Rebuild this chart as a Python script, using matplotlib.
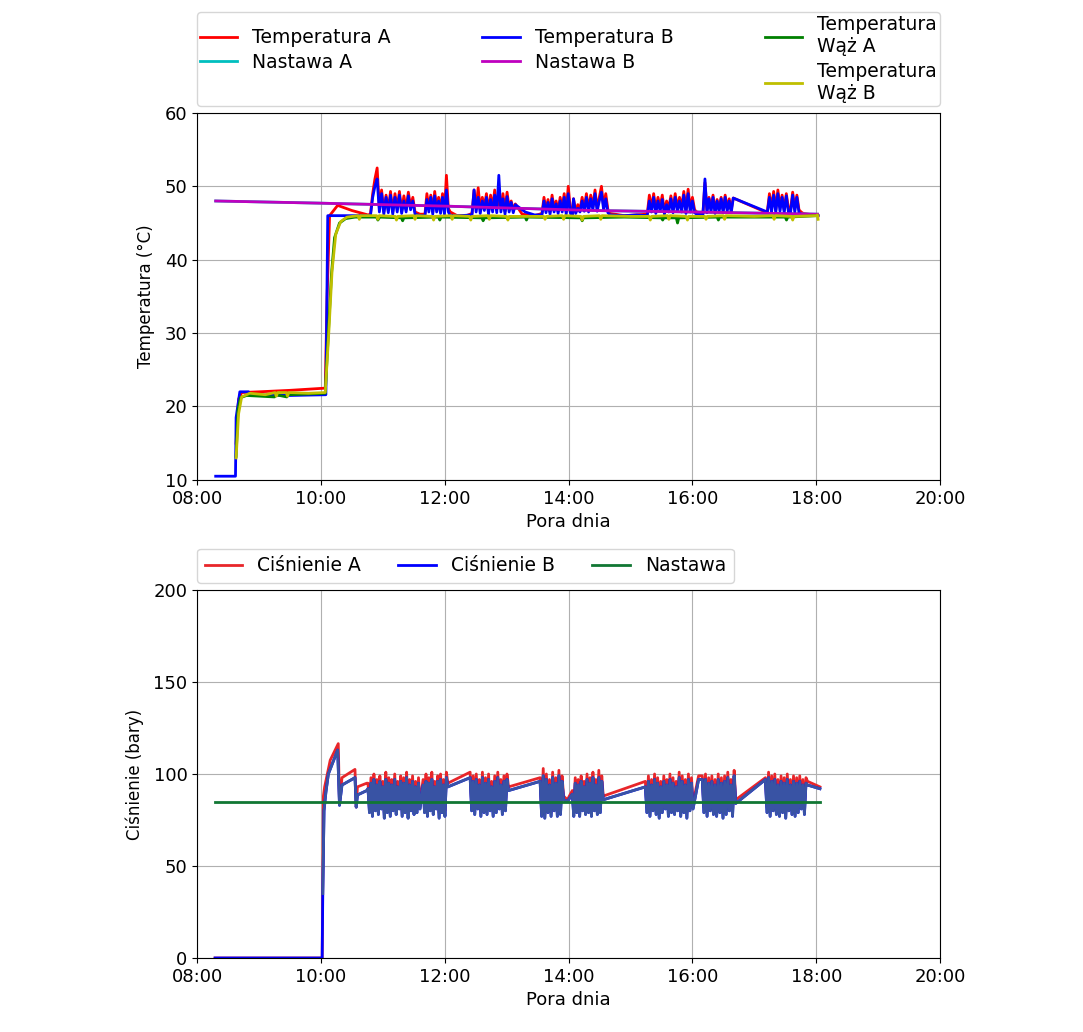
import numpy as np
import matplotlib
matplotlib.use('Agg')
import matplotlib.pyplot as plt

# godziny jako liczby (np. 10.5 = 10:30)
hour_ticks = [8, 10, 12, 14, 16, 18, 20]
hour_labels = ['08:00', '10:00', '12:00', '14:00', '16:00', '18:00', '20:00']

# ---------------- temperatura ----------------
# okresy pracy (start, koniec) w godzinach
temp_spans = [(10.80, 11.52), (11.68, 12.09), (12.44, 13.14), (13.57, 14.06),
              (14.08, 14.67), (15.27, 16.07), (16.17, 16.66), (17.21, 17.79)]

tempA_bursts = [
    [46.2, 49.0, 51.0, 52.5, 47.0, 49.5, 46.5, 48.8, 46.8, 49.3, 46.5, 49.0, 47.0, 49.3, 46.6, 48.7, 46.9, 49.2, 47.2, 48.5, 46.5],
    [46.2, 49.0, 47.0, 48.8, 46.5, 49.3, 47.0, 48.5, 46.8, 49.0, 46.5, 51.5, 47.0, 46.5],
    [46.3, 49.5, 47.0, 49.8, 46.8, 48.5, 47.2, 49.0, 46.5, 48.8, 47.0, 49.5, 46.8, 48.5, 47.0, 49.0, 46.6, 49.2, 47.0, 48.0, 46.8, 47.6],
    [46.3, 48.5, 46.8, 48.2, 46.5, 48.8, 47.0, 48.0, 46.6, 48.5, 47.0, 49.0, 46.5, 50.0, 47.0, 46.2],
    [48.3, 46.5, 47.5, 46.8, 48.5, 47.0, 49.0, 46.8, 48.8, 47.2, 49.5, 47.0, 48.5, 50.0, 47.2, 49.0, 46.8, 46.3],
    [46.2, 48.8, 47.0, 49.0, 46.8, 48.5, 47.2, 48.8, 46.5, 48.0, 47.0, 48.7, 46.8, 49.0, 47.0, 48.5, 47.2, 49.3, 46.8, 49.6, 47.0, 48.5, 46.8, 46.5],
    [46.3, 50.5, 46.8, 48.5, 47.0, 48.8, 46.6, 48.2, 47.0, 48.5, 46.8, 48.8, 47.0, 48.3, 46.8, 48.4],
    [46.5, 49.0, 47.0, 49.3, 46.8, 49.5, 47.2, 48.8, 46.8, 49.0, 47.0, 46.8, 49.2, 47.0, 48.8, 46.8, 46.5, 46.3],
]
tempB_bursts = [
    [46.0, 48.5, 50.0, 51.0, 46.5, 49.0, 46.2, 48.5, 46.4, 48.8, 46.2, 48.5, 46.5, 48.8, 46.3, 48.0, 46.5, 48.7, 46.8, 48.0, 46.2],
    [46.0, 48.2, 46.5, 48.5, 46.2, 48.7, 46.5, 48.0, 46.3, 48.5, 46.2, 49.5, 46.5, 46.0],
    [46.1, 49.5, 46.5, 48.5, 46.3, 48.0, 46.7, 48.5, 46.2, 48.2, 46.5, 48.8, 46.4, 51.5, 46.5, 48.3, 46.2, 48.6, 46.5, 47.8, 46.4, 47.5],
    [46.1, 48.0, 46.4, 47.8, 46.2, 48.3, 46.5, 47.6, 46.3, 48.0, 46.5, 48.5, 46.2, 49.0, 46.4, 46.0],
    [48.3, 46.3, 47.0, 46.5, 48.0, 46.6, 48.5, 46.5, 48.3, 46.8, 49.0, 46.6, 48.0, 49.2, 46.8, 48.3, 46.4, 46.1],
    [46.0, 48.0, 46.5, 48.5, 46.3, 48.0, 46.6, 48.2, 46.2, 47.5, 46.5, 48.3, 46.4, 48.5, 46.6, 48.0, 46.5, 48.8, 46.3, 49.0, 46.5, 48.0, 46.4, 46.2],
    [46.1, 51.0, 46.4, 48.3, 46.5, 48.5, 46.3, 48.0, 46.5, 48.3, 46.4, 48.5, 46.6, 48.0, 46.4, 48.4],
    [46.4, 48.5, 46.5, 48.8, 46.4, 49.0, 46.6, 48.5, 46.4, 48.7, 46.5, 46.4, 48.8, 46.5, 48.5, 46.4, 46.2, 46.1],
]

tempA_pts = [(8.63, 15.0), (8.67, 21.0), (8.72, 21.9), (9.0, 22.0), (9.5, 22.2), (10.07, 22.5),
             (10.10, 35.0), (10.14, 46.0), (10.27, 47.4), (10.5, 46.7), (10.76, 46.1),
             (11.60, 46.2), (12.2, 46.0), (12.35, 46.0), (13.25, 46.2), (13.45, 46.0),
             (14.9, 46.0), (15.1, 46.1), (17.15, 46.6), (18.03, 46.0)]
tempB_pts = [(8.30, 10.5), (8.62, 10.5), (8.63, 18.5), (8.69, 22.0), (8.83, 22.0), (8.86, 21.6),
             (9.5, 21.5), (10.08, 21.6), (10.11, 46.0), (10.44, 46.0), (10.78, 46.0),
             (11.60, 46.0), (12.25, 46.0), (13.30, 46.5), (13.45, 46.1),
             (14.9, 46.0), (15.1, 46.1), (17.18, 46.6), (18.03, 46.0)]

nastawa_pts = [(8.30, 48.0), (10.0, 47.7), (12.0, 47.3), (14.4, 46.7), (16.0, 46.5), (18.02, 46.2)]

wazA_pts = [(8.63, 13.2), (8.66, 19.5), (8.70, 21.2), (8.80, 21.5), (9.25, 21.3), (9.27, 21.6),
            (9.45, 21.3), (9.47, 21.6), (9.8, 21.7), (10.07, 21.8), (10.12, 30.0), (10.17, 38.0),
            (10.22, 43.0), (10.30, 45.0), (10.40, 45.6), (10.55, 45.8), (10.9, 45.8), (10.92, 45.4),
            (10.95, 45.8), (11.3, 45.7), (11.32, 45.3), (11.34, 45.7), (11.9, 45.8), (11.92, 45.4),
            (11.94, 45.8), (12.6, 45.7), (12.62, 45.3), (12.64, 45.7), (13.3, 45.8), (13.32, 45.4),
            (13.34, 45.8), (14.2, 45.7), (14.22, 45.3), (14.24, 45.7), (14.9, 45.8), (15.5, 45.7),
            (15.52, 45.4), (15.54, 45.7), (15.74, 45.7), (15.76, 45.0), (15.78, 45.7), (16.4, 45.8),
            (16.42, 45.4), (16.44, 45.8), (17.0, 45.8), (17.5, 45.8), (17.52, 45.4), (17.54, 45.8),
            (18.02, 46.0)]
wazB_pts = [(8.63, 13.0), (8.67, 19.0), (8.72, 21.3), (8.85, 21.8), (9.1, 21.6), (9.26, 21.9),
            (9.28, 21.4), (9.30, 21.9), (9.44, 21.9), (9.46, 21.4), (9.48, 21.9), (9.8, 21.8),
            (10.07, 21.9), (10.13, 30.5), (10.18, 38.5), (10.24, 43.5), (10.32, 45.2), (10.42, 45.8),
            (10.6, 46.0), (10.62, 45.5), (10.64, 46.0), (10.9, 46.0), (10.92, 45.5), (10.94, 46.0),
            (11.2, 45.9), (11.22, 45.4), (11.24, 45.9), (11.5, 46.0), (11.52, 45.5), (11.54, 46.0),
            (11.8, 45.9), (11.82, 45.4), (11.84, 45.9), (12.1, 46.0), (12.12, 45.5), (12.14, 46.0),
            (12.4, 45.9), (12.42, 45.4), (12.44, 45.9), (12.7, 46.0), (12.72, 45.5), (12.74, 46.0),
            (13.0, 45.9), (13.02, 45.4), (13.04, 45.9), (13.6, 45.9), (13.62, 45.5), (13.64, 45.9),
            (13.9, 46.0), (13.92, 45.5), (13.94, 46.0), (14.2, 45.9), (14.22, 45.4), (14.24, 45.9),
            (14.5, 46.0), (14.52, 45.5), (14.54, 46.0), (15.0, 45.9), (15.3, 45.9), (15.32, 45.4),
            (15.34, 45.9), (15.6, 46.0), (15.62, 45.5), (15.64, 46.0), (15.9, 45.9), (15.92, 45.4),
            (15.94, 45.9), (16.2, 45.9), (16.22, 45.5), (16.24, 45.9), (16.5, 46.0), (16.52, 45.5),
            (16.54, 46.0), (17.0, 45.9), (17.3, 46.0), (17.32, 45.5), (17.34, 46.0), (17.6, 45.9),
            (17.62, 45.4), (17.64, 45.9), (18.0, 46.0), (18.02, 46.1), (18.03, 45.5)]

# ---------------- cisnienie ----------------
pres_spans = [(10.76, 11.60), (11.65, 12.05), (12.41, 13.03), (13.54, 13.92), (14.06, 14.56),
              (15.24, 16.01), (16.16, 16.70), (17.18, 17.86)]

presA_bursts = [
    [95, 82, 98, 80, 100, 83, 97, 81, 99, 84, 96, 79, 101, 82, 98, 80, 97, 83, 100, 81, 96, 84, 99, 80, 98, 82, 101, 79, 97, 83, 99, 81, 96, 82, 98, 84],
    [97, 82, 100, 80, 98, 83, 101, 81, 96, 84, 99, 79, 100, 82, 97, 80, 101, 95],
    [101, 83, 99, 81, 100, 84, 97, 80, 101, 82, 98, 81, 100, 83, 96, 80, 99, 82, 101, 84, 97, 81, 99, 83, 100, 93],
    [98, 80, 103, 78, 100, 82, 97, 79, 101, 83, 98, 80, 102, 81, 99, 88],
    [91, 80, 98, 82, 97, 80, 99, 83, 96, 81, 100, 82, 98, 80, 101, 83, 97, 81, 102, 82, 99, 88],
    [96, 82, 99, 80, 97, 83, 100, 81, 98, 79, 96, 82, 99, 84, 97, 80, 100, 82, 98, 81, 96, 83, 101, 80, 99, 82, 97, 79, 100, 83, 98, 84],
    [99, 82, 100, 80, 98, 83, 99, 81, 97, 80, 100, 82, 98, 79, 99, 81, 101, 83, 97, 80, 102, 86],
    [98, 82, 101, 80, 99, 83, 100, 81, 97, 80, 99, 82, 98, 79, 100, 83, 97, 81, 99, 80, 98, 82, 99, 84, 97, 81, 98, 96],
]
presB_bursts = [
    [92, 79, 95, 77, 97, 80, 94, 78, 96, 81, 93, 76, 97, 79, 95, 77, 94, 80, 97, 78, 93, 81, 96, 77, 95, 79, 98, 76, 94, 80, 96, 78, 93, 79, 95, 81],
    [94, 79, 96, 77, 95, 80, 97, 78, 93, 81, 96, 76, 97, 79, 94, 77, 98, 93],
    [98, 80, 96, 78, 97, 81, 94, 77, 98, 79, 95, 78, 97, 80, 93, 77, 96, 79, 98, 81, 94, 78, 96, 80, 97, 91],
    [96, 77, 99, 76, 97, 79, 94, 77, 98, 80, 95, 77, 99, 78, 96, 86],
    [89, 77, 95, 79, 94, 77, 96, 80, 93, 78, 97, 79, 95, 77, 98, 80, 94, 78, 98, 79, 96, 86],
    [93, 79, 96, 77, 94, 80, 97, 78, 95, 76, 93, 79, 96, 81, 94, 77, 97, 79, 95, 78, 93, 80, 98, 77, 96, 79, 94, 76, 97, 80, 95, 81],
    [97, 79, 97, 77, 95, 80, 96, 78, 94, 77, 97, 79, 95, 76, 96, 78, 98, 80, 94, 77, 99, 84],
    [96, 79, 98, 77, 96, 80, 97, 78, 94, 77, 96, 79, 95, 76, 97, 80, 94, 78, 96, 77, 95, 79, 96, 81, 94, 78, 95, 94],
]

presA_pts = [(8.29, 0), (10.02, 0), (10.04, 88), (10.06, 93), (10.15, 107.5), (10.28, 116.5),
             (10.30, 84), (10.34, 98), (10.55, 102.5), (10.57, 82), (10.59, 93), (10.74, 95),
             (12.41, 101), (13.54, 98), (13.98, 86), (15.24, 96), (16.10, 99), (17.18, 98), (18.06, 93)]
presB_pts = [(8.29, 0), (10.02, 0), (10.03, 35), (10.05, 80), (10.08, 90), (10.12, 100), (10.27, 113),
             (10.30, 83), (10.34, 94), (10.55, 98), (10.57, 82), (10.59, 88.6), (10.74, 91),
             (12.41, 98), (13.54, 96), (13.98, 85), (15.24, 93), (16.10, 97), (17.18, 97), (18.06, 92)]
pres_nastawa_pts = [(8.29, 85), (18.06, 85)]


def build(points, spans=(), bursts=()):
    t = [p[0] for p in points]
    v = [p[1] for p in points]
    for (t0, t1), vals in zip(spans, bursts):
        # kolejne odczyty w okresie pracy
        t += list(np.linspace(t0, t1, len(vals)))
        v += list(vals)
    order = np.argsort(t, kind='stable')
    return np.array(t)[order], np.array(v)[order]


fig = plt.figure(figsize=(10.83, 10.32), dpi=100)
ax1 = fig.add_axes([0.182, 0.535, 0.686, 0.3556])
ax2 = fig.add_axes([0.182, 0.0717, 0.686, 0.3566])

lw = 2
leg_fs = 13.5
x, y = build(tempA_pts, temp_spans, tempA_bursts)
ax1.plot(x, y, color='r', lw=lw, label='Temperatura A')
x, y = build(nastawa_pts)
ax1.plot(x, y, color='c', lw=lw, label='Nastawa A')
x, y = build(tempB_pts, temp_spans, tempB_bursts)
ax1.plot(x, y, color='b', lw=lw, label='Temperatura B')
x, y = build(nastawa_pts)
ax1.plot(x, y, color='m', lw=lw, label='Nastawa B')
x, y = build(wazA_pts)
ax1.plot(x, y, color='g', lw=lw, label='Temperatura\nWąż A')
x, y = build(wazB_pts)
ax1.plot(x, y, color='y', lw=lw, label='Temperatura\nWąż B')

ax1.set_xlim(8, 20)
ax1.set_ylim(10, 60)
ax1.set_xticks(hour_ticks)
ax1.set_xticklabels(hour_labels)
ax1.tick_params(labelsize=13)
ax1.set_xlabel('Pora dnia', fontsize=13)
ax1.set_ylabel('Temperatura (°C)', fontsize=12, labelpad=7)
ax1.grid(True)
ax1.legend(loc='lower left', bbox_to_anchor=(0, 1.02, 1, 0.2), mode='expand',
           ncol=3, fontsize=leg_fs, borderaxespad=0, labelspacing=0.3, borderpad=0.15)

x, y = build(presA_pts, pres_spans, presA_bursts)
ax2.plot(x, y, color='#e8262a', lw=lw, label='Ciśnienie A')
x, y = build(presB_pts, pres_spans, presB_bursts)
ax2.plot(x, y, color='b', lw=lw, label='Ciśnienie B')
# powyzej ~35 bar linia B jest w odcieniu stalowoniebieskim
k = np.argmax(y >= 35)
ax2.plot(x[k:], y[k:], color='#3953a4', lw=lw)
x, y = build(pres_nastawa_pts)
ax2.plot(x, y, color='#117733', lw=lw, label='Nastawa')

ax2.set_xlim(8, 20)
ax2.set_ylim(0, 200)
ax2.set_yticks([0, 50, 100, 150, 200])
ax2.set_xticks(hour_ticks)
ax2.set_xticklabels(hour_labels)
ax2.tick_params(labelsize=13)
ax2.set_xlabel('Pora dnia', fontsize=13)
ax2.set_ylabel('Ciśnienie (bary)', fontsize=12, labelpad=7)
ax2.grid(True)
ax2.legend(loc='lower left', bbox_to_anchor=(0, 1.02), ncol=3, fontsize=leg_fs, borderaxespad=0)

fig.savefig('out.png', dpi=100)
